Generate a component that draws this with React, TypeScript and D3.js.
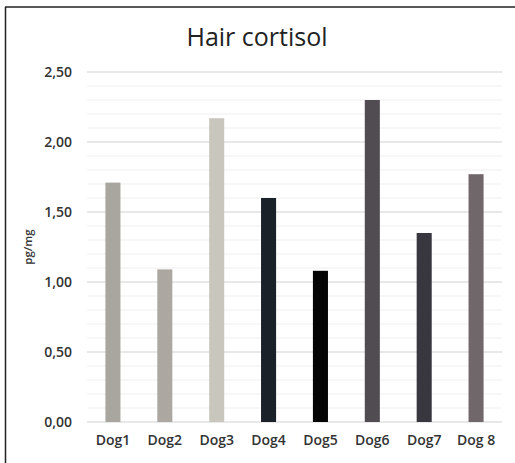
import React, { useEffect, useRef } from 'react';
import * as d3 from 'd3';

const dogs = ['Dog1', 'Dog2', 'Dog3', 'Dog4', 'Dog5', 'Dog6', 'Dog7', 'Dog 8'];
const cortisol = [1.71, 1.09, 2.17, 1.60, 1.08, 2.30, 1.35, 1.77];
const barColors = ['#a9a69f', '#aca7a0', '#c9c7bd', '#1b2128', '#050505', '#504c51', '#38363f', '#6f6769'];
const majorTicks = [0, 0.5, 1, 1.5, 2, 2.5];
const minorTicks = d3.range(0, 26).map(i => i / 10);

const W = 515;
const H = 463;

export default function App() {
  const svgRef = useRef<SVGSVGElement>(null);

  useEffect(() => {
    if (!svgRef.current) return;
    const svg = d3.select(svgRef.current);
    svg.selectAll('*').remove();

    const margin = { top: 72, right: 13, bottom: 41, left: 87 };
    const innerW = W - margin.left - margin.right;
    const innerH = H - margin.top - margin.bottom;
    const font = "'Open Sans', 'Noto Sans', sans-serif";

    svg.append('rect').attr('width', W).attr('height', H).attr('fill', '#fff');

    // cadre (crop du document)
    svg.append('line').attr('x1', 5).attr('x2', W).attr('y1', 7).attr('y2', 7)
      .attr('stroke', '#222').attr('stroke-width', 1.5);
    svg.append('line').attr('x1', 5.5).attr('x2', 5.5).attr('y1', 7).attr('y2', H)
      .attr('stroke', '#222').attr('stroke-width', 1.5);

    const g = svg.append('g').attr('transform', `translate(${margin.left},${margin.top})`);

    const x = d3.scaleBand().domain(dogs).range([0, innerW]).paddingInner(0.71).paddingOuter(0.355);
    const y = d3.scaleLinear().domain([0, 2.5]).range([innerH, 0]);

    // grille secondaire
    g.selectAll('.minor').data(minorTicks).enter().append('line')
      .attr('x1', 0).attr('x2', innerW)
      .attr('y1', d => y(d)).attr('y2', d => y(d))
      .attr('stroke', '#efefef').attr('stroke-width', 1);

    // grille principale
    g.selectAll('.major').data(majorTicks).enter().append('line')
      .attr('x1', 0).attr('x2', innerW)
      .attr('y1', d => y(d)).attr('y2', d => y(d))
      .attr('stroke', '#d9d9d9').attr('stroke-width', 1);

    // barres
    g.selectAll('.bar').data(dogs).enter().append('rect')
      .attr('x', d => x(d) as number)
      .attr('width', x.bandwidth())
      .attr('y', (d, i) => y(cortisol[i]))
      .attr('height', (d, i) => innerH - y(cortisol[i]))
      .attr('fill', (d, i) => barColors[i]);

    // axe Y
    const fmt = (v: number) => v.toFixed(2).replace('.', ',');
    g.selectAll('.ylab').data(majorTicks).enter().append('text')
      .attr('x', -15).attr('y', d => y(d) + 5)
      .attr('text-anchor', 'end')
      .style('font-family', font).style('font-size', '14px').style('font-weight', 600)
      .attr('fill', '#333')
      .text(d => fmt(d));

    // axe X
    g.selectAll('.xlab').data(dogs).enter().append('text')
      .attr('x', d => (x(d) as number) + x.bandwidth() / 2)
      .attr('y', innerH + 23)
      .attr('text-anchor', 'middle')
      .style('font-family', font).style('font-size', '14px').style('font-weight', 600)
      .attr('fill', '#333')
      .text(d => d);

    // titre axe Y
    g.append('text')
      .attr('transform', 'rotate(-90)')
      .attr('x', -innerH / 2).attr('y', -margin.left + 32)
      .attr('text-anchor', 'middle')
      .style('font-family', font).style('font-size', '11.5px').style('font-weight', 600)
      .attr('fill', '#333')
      .text('pg/mg');

    // titre
    svg.append('text')
      .attr('x', 257).attr('y', 46)
      .attr('text-anchor', 'middle')
      .style('font-family', font).style('font-size', '25px')
      .attr('fill', '#222')
      .text('Hair cortisol');
  }, []);

  return (
    <svg ref={svgRef} width={W} height={H} style={{ position: 'absolute', left: 0, top: 0 }} />
  );
}
